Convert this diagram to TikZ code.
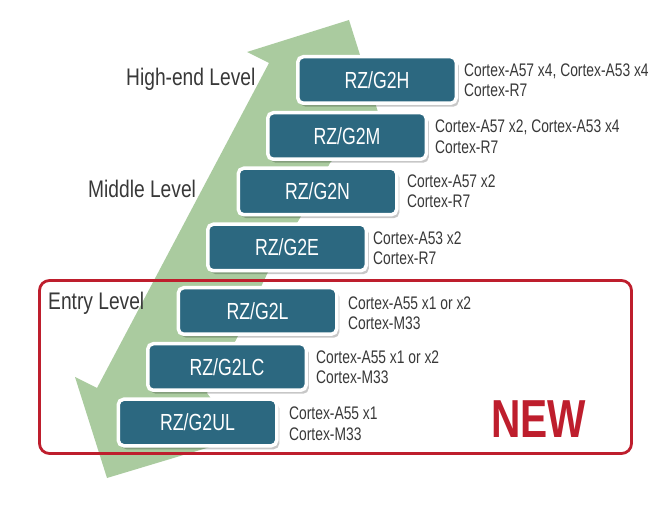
\documentclass[tikz,border=0pt]{standalone}
\usepackage{fontspec}
\usetikzlibrary{shadows}
\newfontfamily\condA[FakeStretch=0.76]{Liberation Sans}
\newfontfamily\condB[FakeStretch=0.8]{Liberation Sans}
\definecolor{arrowgreen}{HTML}{AACB9F}
\definecolor{boxteal}{HTML}{2C6880}
\definecolor{newred}{HTML}{BE1E2D}
\definecolor{labgray}{HTML}{383838}
\definecolor{descgray}{HTML}{383838}
\tikzset{
  chip/.style={rounded corners=5.5pt, fill=boxteal, draw=white, line width=3.5pt,
    minimum width=158.5pt, minimum height=46.5pt, inner sep=0pt, text=white,
    font=\condA\fontsize{23.3}{27}\selectfont,
    drop shadow={shadow xshift=2.5pt, shadow yshift=-3.5pt, opacity=0.22, fill=black}},
  desc/.style={anchor=base west, inner sep=0pt, text=descgray, font=\condA\fontsize{18.2}{21}\selectfont},
  level/.style={anchor=base west, inner sep=0pt, text=labgray, font=\condB\fontsize{24}{28}\selectfont}
}
\begin{document}
\begin{tikzpicture}[x=1pt,y=-1pt]
\useasboundingbox (0,0) rectangle (672,510);
% green arrow
\fill[arrowgreen] (247,52) -- (349,20) -- (378,112) -- (330,163) -- (300,218) -- (268,272)
  -- (237,338) -- (207,393) -- (240,438) -- (107,478) -- (75,377) -- (97,388) -- (269,63) -- cycle;
% red frame
\draw[newred, line width=2.8pt, rounded corners=10pt] (39.5,280.5) rectangle (631.5,453.5);
% level labels
\node[level] (lh) at (126,86) {High-end Level};
\node[level] (lm) at (88,198) {Middle Level};
\node[level] (le) at (48,310) {Entry Level};
% chips
\node[chip] (h)  at (377,80)    {RZ/G2H};
\node[chip] (m)  at (347,136)   {RZ/G2M};
\node[chip] (n)  at (317.5,191.5) {RZ/G2N};
\node[chip] (e)  at (287,247.5) {RZ/G2E};
\node[chip] (l)  at (257.5,311) {RZ/G2L};
\node[chip] (lc) at (227,367)   {RZ/G2LC};
\node[chip] (ul) at (197.5,422.5) {RZ/G2UL};
% descriptions
\node[desc] (h1) at (464,77) {Cortex-A57 x4, Cortex-A53 x4};
\node[desc] (h2) at (464,97) {Cortex-R7};
\node[desc] (m1) at (435,133) {Cortex-A57 x2, Cortex-A53 x4};
\node[desc] (m2) at (435,154) {Cortex-R7};
\node[desc] (n1) at (407,188) {Cortex-A57 x2};
\node[desc] (n2) at (407,208) {Cortex-R7};
\node[desc] (e1) at (373,245) {Cortex-A53 x2};
\node[desc] (e2) at (373,265) {Cortex-R7};
\node[desc] (l1) at (348,310) {Cortex-A55 x1 or x2};
\node[desc] (l2) at (348,330) {Cortex-M33};
\node[desc] (lc1) at (316,364) {Cortex-A55 x1 or x2};
\node[desc] (lc2) at (316,384) {Cortex-M33};
\node[desc] (ul1) at (289,420) {Cortex-A55 x1};
\node[desc] (ul2) at (289,440) {Cortex-M33};
% NEW
\node[anchor=base west, inner sep=0pt, text=newred, font=\condA\bfseries\fontsize{53.5}{60}\selectfont] (new) at (491,438) {NEW};
\end{tikzpicture}
\end{document}
